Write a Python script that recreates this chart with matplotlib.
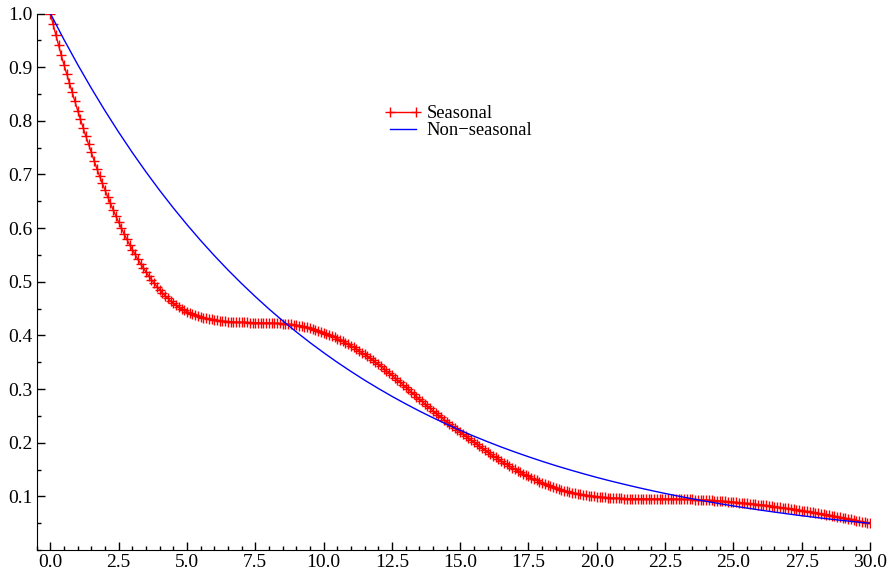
import numpy as np
import matplotlib
matplotlib.use("Agg")
import matplotlib.pyplot as plt
from matplotlib.ticker import MultipleLocator, FormatStrFormatter

# horizonte (pasos de 0.1)
periods = np.arange(301) / 10.0
# respuesta del modelo estacional
seasonal = [
    1.000, 0.980, 0.960, 0.941, 0.922, 0.904, 0.887, 0.870, 0.853, 0.836,
    0.819, 0.803, 0.787, 0.771, 0.756, 0.741, 0.726, 0.711, 0.697, 0.684,
    0.671, 0.658, 0.646, 0.634, 0.622, 0.611, 0.600, 0.589, 0.579, 0.569,
    0.560, 0.551, 0.542, 0.534, 0.526, 0.518, 0.511, 0.504, 0.497, 0.491,
    0.485, 0.479, 0.474, 0.469, 0.464, 0.460, 0.456, 0.4525, 0.4495, 0.4468,
    0.4443, 0.4420, 0.4399, 0.4380, 0.4362, 0.4346, 0.4332, 0.4319, 0.4308, 0.4298,
    0.4289, 0.4281, 0.4274, 0.4268, 0.4263, 0.4258, 0.4254, 0.4251, 0.4248, 0.4246,
    0.4244, 0.4242, 0.4241, 0.4240, 0.4239, 0.4238, 0.4237, 0.4236, 0.4235, 0.4234,
    0.4232, 0.4230, 0.4228, 0.4226, 0.4223, 0.4220, 0.4216, 0.4211, 0.4206, 0.4199,
    0.4192, 0.4184, 0.4175, 0.4164, 0.4151, 0.4137, 0.4122, 0.4106, 0.4089, 0.4071,
    0.4052, 0.4032, 0.4011, 0.3989, 0.3966, 0.3942, 0.3917, 0.3891, 0.3864, 0.3836,
    0.3807, 0.3777, 0.3746, 0.3714, 0.3681, 0.3647, 0.3612, 0.3576, 0.3539, 0.3501,
    0.3462, 0.3422, 0.3382, 0.3341, 0.3299, 0.3257, 0.3214, 0.3171, 0.3127, 0.3083,
    0.3039, 0.2994, 0.2949, 0.2904, 0.2859, 0.2814, 0.2769, 0.2725, 0.2681, 0.2638,
    0.2595, 0.2553, 0.2512, 0.2472, 0.2432, 0.2392, 0.2353, 0.2314, 0.2275, 0.2236,
    0.2198, 0.2160, 0.2122, 0.2085, 0.2048, 0.2012, 0.1975, 0.1938, 0.1901, 0.1864,
    0.1828, 0.1793, 0.1759, 0.1725, 0.1692, 0.1660, 0.1628, 0.1597, 0.1566, 0.1536,
    0.1507, 0.1478, 0.1450, 0.1423, 0.1397, 0.1372, 0.1347, 0.1322, 0.1298, 0.1275,
    0.1253, 0.1232, 0.1212, 0.1193, 0.1175, 0.1157, 0.1140, 0.1124, 0.1109, 0.1095,
    0.1082, 0.1070, 0.1059, 0.1049, 0.1040, 0.1031, 0.1023, 0.1015, 0.1008, 0.1001,
    0.0995, 0.0989, 0.0984, 0.0979, 0.0975, 0.0971, 0.0968, 0.0965, 0.0963, 0.0961,
    0.0959, 0.0958, 0.0957, 0.0956, 0.0955, 0.0955, 0.0954, 0.0954, 0.0954, 0.0953,
    0.0953, 0.0953, 0.0953, 0.0952, 0.0952, 0.0952, 0.0951, 0.0951, 0.0950, 0.0950,
    0.0949, 0.0948, 0.0947, 0.0946, 0.0944, 0.0942, 0.0940, 0.0938, 0.0935, 0.0932,
    0.0929, 0.0926, 0.0923, 0.0920, 0.0917, 0.0913, 0.0909, 0.0906, 0.0902, 0.0898,
    0.0894, 0.0889, 0.0885, 0.0880, 0.0875, 0.0870, 0.0865, 0.0859, 0.0854, 0.0848,
    0.0843, 0.0836, 0.0830, 0.0823, 0.0817, 0.0810, 0.0803, 0.0796, 0.0789, 0.0782,
    0.0775, 0.0767, 0.0759, 0.0752, 0.0744, 0.0736, 0.0728, 0.0719, 0.0711, 0.0702,
    0.0694, 0.0685, 0.0676, 0.0666, 0.0657, 0.0648, 0.0638, 0.0629, 0.0619, 0.0610,
    0.0600, 0.0590, 0.0579, 0.0569, 0.0559, 0.0549, 0.0538, 0.0527, 0.0517, 0.0506,
    0.0495,
]

# modelo no estacional (pasos de 0.5)
periods_ns = np.arange(61) / 2.0
non_seasonal = [
    1.0000, 0.9512, 0.9048, 0.8607, 0.8187, 0.7788, 0.7408, 0.7047, 0.6703, 0.6376,
    0.6065, 0.5769, 0.5488, 0.5220, 0.4966, 0.4724, 0.4493, 0.4274, 0.4066, 0.3867,
    0.3679, 0.3499, 0.3329, 0.3166, 0.3012, 0.2865, 0.2725, 0.2592, 0.2466, 0.2346,
    0.2231, 0.2122, 0.2019, 0.1920, 0.1827, 0.1738, 0.1653, 0.1572, 0.1496, 0.1423,
    0.1353, 0.1287, 0.1225, 0.1165, 0.1108, 0.1054, 0.1003, 0.0954, 0.0907, 0.0863,
    0.0821, 0.0781, 0.0743, 0.0707, 0.0672, 0.0639, 0.0608, 0.0578, 0.0550, 0.0523,
    0.0498,
]

plt.rcParams['font.family'] = ['Liberation Serif', 'DejaVu Serif']

fig = plt.figure(figsize=(8.9, 5.72), dpi=100)
ax = fig.add_axes([36.7 / 890, 22 / 572, (870 - 36.7) / 890, (550 - 13.5) / 572])

ax.plot(periods, seasonal, color='#ff0000', lw=1.0, marker='+', ms=6.5,
        mew=1.0, label='Seasonal')
ax.plot(periods_ns, non_seasonal, color='#0000ff', lw=1.0, label='Non\u2212seasonal')

ax.set_xlim(-0.5, 30.0)
ax.set_ylim(0.0, 1.0)

ax.xaxis.set_major_locator(MultipleLocator(2.5))
ax.xaxis.set_minor_locator(MultipleLocator(0.5))
ax.xaxis.set_major_formatter(FormatStrFormatter('%.1f'))
ax.set_yticks(np.arange(1, 11) / 10.0)
ax.yaxis.set_minor_locator(MultipleLocator(0.05))
ax.yaxis.set_major_formatter(FormatStrFormatter('%.1f'))

ax.tick_params(which='both', direction='in', labelsize=14, pad=3, width=1)
ax.tick_params(which='major', length=6)
ax.tick_params(which='minor', length=3)

for s in ['top', 'right']:
    ax.spines[s].set_visible(False)

ax.legend(loc='upper left', bbox_to_anchor=(371 / 890, 1 - 92 / 572),
          bbox_transform=fig.transFigure, frameon=False, fontsize=13.4,
          numpoints=2, handlelength=2.0, handletextpad=0.3,
          labelspacing=0.0, borderpad=0.2)

fig.savefig('out.png', dpi=100)
